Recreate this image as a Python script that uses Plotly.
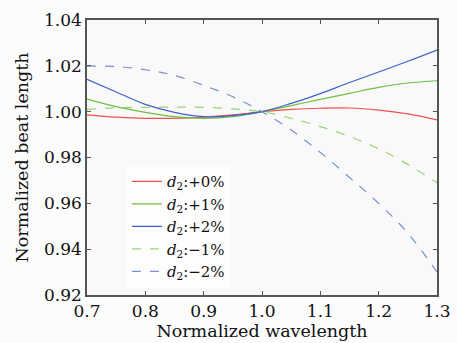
import plotly.graph_objects as go

wavelength = [0.7, 0.75, 0.8, 0.85, 0.9, 0.95, 1.0, 1.05, 1.1, 1.15, 1.2, 1.25, 1.3]
d2_p0 = [0.9986, 0.9976, 0.9971, 0.9971, 0.9976, 0.9986, 1.0, 1.0010, 1.0015, 1.0016, 1.0007, 0.9990, 0.9964]
d2_p1 = [1.0055, 1.0022, 0.9997, 0.9978, 0.9971, 0.9978, 1.0, 1.0026, 1.0054, 1.0080, 1.0106, 1.0125, 1.0135]
d2_p2 = [1.0141, 1.0086, 1.0032, 0.9997, 0.9978, 0.9983, 1.0, 1.0036, 1.0079, 1.0127, 1.0173, 1.0220, 1.0269]
d2_m1 = [1.0010, 1.0017, 1.0019, 1.0020, 1.0019, 1.0012, 1.0, 0.9971, 0.9935, 0.9892, 0.9838, 0.9770, 0.9690]
d2_m2 = [1.0199, 1.0197, 1.0183, 1.0158, 1.0115, 1.0065, 1.0, 0.9920, 0.9822, 0.9713, 0.9600, 0.9470, 0.9300]

labels = ["+0%", "+1%", "+2%", "\u22121%", "\u22122%"]
series = [d2_p0, d2_p1, d2_p2, d2_m1, d2_m2]
colors = ["#f05050", "#6cc040", "#4060c8", "#98d47a", "#7890d4"]
dashes = ["solid", "solid", "solid", "dash", "dash"]

fig = go.Figure()
for lab, ys, c, d in zip(labels, series, colors, dashes):
    fig.add_trace(go.Scatter(
        x=wavelength, y=ys, mode="lines", line_shape="spline",
        line=dict(color=c, width=1.2, dash=d),
        name="<i>d</i><sub>2</sub>:" + lab,
    ))

font = "DejaVu Serif"
axis_common = dict(
    showline=True, linecolor="#555555", linewidth=1.5, mirror="ticks",
    ticks="inside", ticklen=4, tickcolor="#555555", showgrid=False, zeroline=False,
    automargin=False,
    tickfont=dict(family=font, size=17, color="#111111"),
)
fig.update_xaxes(range=[0.7, 1.3], tickvals=[0.7, 0.8, 0.9, 1.0, 1.1, 1.2, 1.3],
                 ticktext=["0.7", "0.8", "0.9", "1.0", "1.1", "1.2", "1.3"],
                 title=dict(text="Normalized wavelength", standoff=3,
                            font=dict(family=font, size=17.5, color="#111111")),
                 **axis_common)
fig.update_yaxes(range=[0.92, 1.04], tickvals=[0.92, 0.94, 0.96, 0.98, 1.00, 1.02, 1.04],
                 ticktext=["0.92", "0.94", "0.96", "0.98", "1.00", "1.02", "1.04"],
                 title=dict(text="Normalized beat length", standoff=11,
                            font=dict(family=font, size=17.5, color="#111111")),
                 **axis_common)
fig.update_layout(
    width=457, height=343,
    margin=dict(l=87, r=20, t=20, b=48),
    paper_bgcolor="#fcfcfc", plot_bgcolor="#f9f9f9",
    legend=dict(x=0.114, y=0.472, xanchor="left", yanchor="top",
                bgcolor="#fdfdfd", font=dict(family=font, size=15, color="#111111"),
                tracegroupgap=0, itemwidth=30),
    showlegend=True,
)
fig.write_html("out.html", config={"displayModeBar": False},
               post_script="document.body.style.margin='0';document.body.style.background='#fcfcfc';")
